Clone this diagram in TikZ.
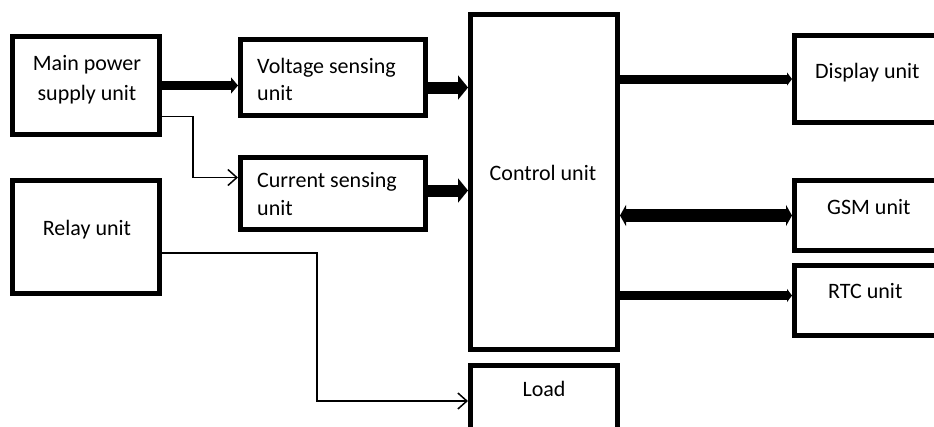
\documentclass[tikz,border=0pt]{standalone}
\usepackage{fontspec}
\setmainfont{Carlito}
\usetikzlibrary{arrows.meta,calc}
\begin{document}
\begin{tikzpicture}[x=1pt,y=-1pt,
  box/.style={draw=black,line width=5pt,rectangle,inner sep=0pt,fill=none},
  lbl/.style={font=\fontsize{22}{28}\selectfont,inner sep=0pt,text=black},
  thickA/.style={line width=9pt,-{Triangle[length=7pt,width=16pt]}},
  outA/.style={line width=9pt,-{Triangle[length=5pt,width=13pt]}},
  heavyA/.style={line width=12pt,-{Triangle[length=10pt,width=24pt]}},
  thinA/.style={line width=1.5pt,-{Straight Barb[length=9pt,width=16pt,line width=1.5pt]}}
]
\useasboundingbox (0,0) rectangle (934,426);
\fill[white] (0,0) rectangle (934,426);
\clip (0,0) rectangle (934,426);

% boxes
\node[box,minimum width=147pt,minimum height=98pt] (mps) at (86,85.5) {};
\node[box,minimum width=185pt,minimum height=76pt] (vs) at (333,77.5) {};
\node[box,minimum width=185pt,minimum height=72pt] (cs) at (333,193.5) {};
\node[box,minimum width=147pt,minimum height=113pt] (relay) at (86,237) {};
\node[box,minimum width=147pt,minimum height=335pt] (cu) at (544,182) {};
\node[box,minimum width=147pt,minimum height=115pt] (load) at (544,423) {};
\node[box,minimum width=200pt,minimum height=87pt] (dsp) at (894.5,79) {};
\node[box,minimum width=200pt,minimum height=70pt] (gsm) at (894.5,215.5) {};
\node[box,minimum width=200pt,minimum height=70pt] (rtc) at (894.5,300.5) {};

% labels
\node[lbl,anchor=base] (tmps1) at (87,70) {Main power};
\node[lbl,anchor=base] (tmps2) at (87,100) {supply unit};
\node[lbl,anchor=base west] (tvs1) at (257,73) {Voltage sensing};
\node[lbl,anchor=base west] (tvs2) at (257,100) {unit};
\node[lbl,anchor=base west] (tcs1) at (257,187) {Current sensing};
\node[lbl,anchor=base west] (tcs2) at (257,215) {unit};
\node[lbl,anchor=base] (trelay) at (87,235) {Relay unit};
\node[lbl,anchor=base] (tcu) at (543,180) {Control unit};
\node[lbl,anchor=base] (tload) at (544,396) {Load};
\node[lbl,anchor=base west] (tdsp) at (815,78) {Display unit};
\node[lbl,anchor=base west] (tgsm) at (827,214) {GSM unit};
\node[lbl,anchor=base west] (trtc) at (828,298) {RTC unit};

% connectors
\draw[thickA] (mps.east) -- (mps.east -| vs.west);
\coordinate (v1) at ($(vs.east)+(0,10)$);
\draw[heavyA] (v1) -- (v1 -| cu.west);
\coordinate (c0) at ($(cs.east)+(0,-3)$);
\draw[heavyA] (c0) -- (c0 -| cu.west);
\draw[outA] (dsp.west -| cu.east) -- (dsp.west);
\draw[line width=13pt,{Triangle[length=6pt,width=21pt]}-{Triangle[length=6pt,width=21pt]}] (gsm.west -| cu.east) -- (gsm.west);
\coordinate (r1) at ($(rtc.west)+(0,-5)$);
\draw[outA] (r1 -| cu.east) -- (r1);

\coordinate (c1) at ($(cs.west)+(0,-16)$);
\draw[thinA] ($(mps.east)+(0,31)$) -- ++(31,0) |- (c1);
\coordinate (c2) at ($(load.west)+(0,-22)$);
\draw[thinA] ($(relay.east)+(0,16)$) -- ++(155,0) |- (c2);
\end{tikzpicture}
\end{document}
